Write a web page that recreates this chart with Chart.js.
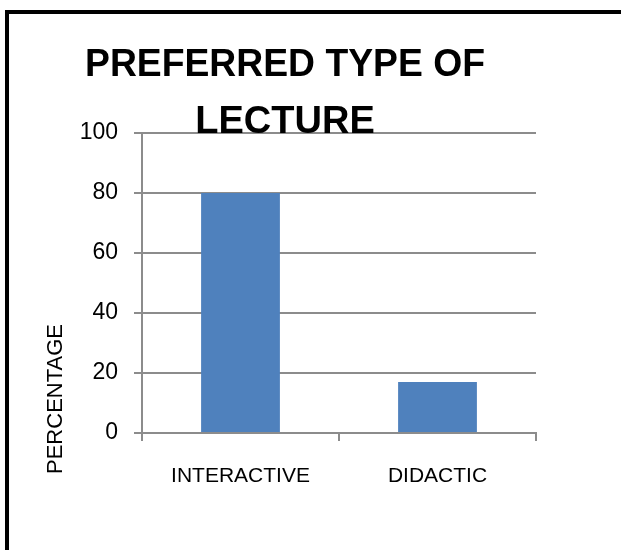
<!DOCTYPE html>
<html>
<head>
<meta charset="utf-8">
<script src="https://cdn.jsdelivr.net/npm/chart.js@4"></script>
<style>
  body { margin: 0; background: #fff; }
  canvas { display: block; }
</style>
</head>
<body>
<canvas id="myChart" width="621" height="550"></canvas>
<script>
const categories = ["INTERACTIVE", "DIDACTIC"];
const percentage = [80, 17];
const yTicks = [0, 20, 40, 60, 80, 100];
const titleLines = ["PREFERRED TYPE OF", "LECTURE"];
const yTitle = "PERCENTAGE";

const gridColor = "#8c8c8c";
const fontFamily = "'Liberation Sans', Arial, sans-serif";

// frame lines + title + y axis label drawn by hand
const extras = {
  id: "extras",
  beforeDraw(chart) {
    const c = chart.ctx;
    c.save();
    c.fillStyle = "#000";
    c.fillRect(5, 10, 616, 4);
    c.fillRect(5, 10, 4, 540);
    c.restore();
  },
  afterDraw(chart) {
    const c = chart.ctx;
    c.save();
    c.fillStyle = "#000";
    c.textAlign = "center";
    c.textBaseline = "alphabetic";
    c.font = "bold 38px " + fontFamily;
    c.fillText(titleLines[0], 285, 76, 400);
    c.fillText(titleLines[1], 285, 133, 400);

    c.translate(56, 399);
    c.rotate(-Math.PI / 2);
    c.textBaseline = "middle";
    c.font = "22px " + fontFamily;
    c.fillText(yTitle, 0, 0);
    c.restore();
  },
};

const ctx = document.getElementById("myChart");

new Chart(ctx, {
  type: "bar",
  data: {
    labels: categories,
    datasets: [
      {
        label: "PERCENTAGE",
        data: percentage,
        backgroundColor: "#4F81BD",
        categoryPercentage: 1,
        barPercentage: 0.4,
      },
    ],
  },
  options: {
    responsive: false,
    animation: false,
    events: [],
    layout: {
      padding: { top: 133, right: 85, left: 0, bottom: 0 },
    },
    plugins: {
      legend: { display: false },
      tooltip: { enabled: false },
      title: { display: false },
    },
    scales: {
      x: {
        afterFit: (scale) => {
          scale.height = 117;
        },
        border: { color: gridColor, width: 2 },
        grid: {
          offset: true,
          drawOnChartArea: false,
          color: gridColor,
          lineWidth: 2,
          tickLength: 8,
        },
        ticks: {
          color: "#000",
          padding: 23,
          font: { family: fontFamily, size: 21 },
        },
      },
      y: {
        min: 0,
        max: 100,
        afterFit: (scale) => {
          scale.width = 142;
        },
        afterBuildTicks: (scale) => {
          scale.ticks = yTicks.map((v) => ({ value: v }));
        },
        border: { color: gridColor, width: 2 },
        grid: {
          color: gridColor,
          lineWidth: 2,
          tickLength: 8,
        },
        ticks: {
          color: "#000",
          padding: 16,
          font: { family: fontFamily, size: 23 },
        },
      },
    },
  },
  plugins: [extras],
});
</script>
</body>
</html>
